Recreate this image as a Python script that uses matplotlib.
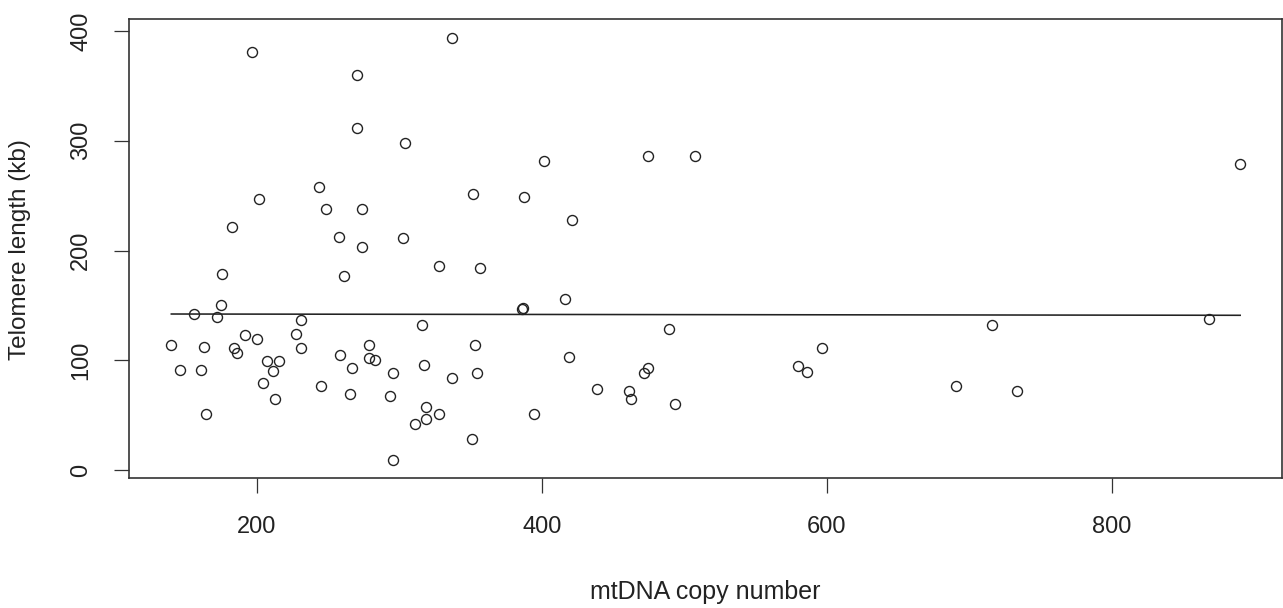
import numpy as np
import matplotlib.pyplot as plt

plt.rcParams["font.family"] = ["Liberation Sans", "DejaVu Sans"]

# mtDNA copy number vs telomere length
mtdna = [
    196.5, 270.0, 270.0, 303.6, 243.5, 201.2, 248.2, 273.7, 182.7, 257.3,
    302.2, 273.7, 175.6, 261.1, 174.5, 156.0, 171.9, 230.9, 316.0, 227.6,
    191.6, 200.0, 139.9, 163.0, 230.9, 183.6, 186.2, 278.4, 258.5, 278.4,
    283.0, 206.8, 215.4, 317.0, 145.8, 160.9, 211.4, 266.9, 295.4, 204.2,
    244.7, 265.5, 293.3, 212.6, 318.4, 318.4, 311.1, 164.2, 295.4, 337.1,
    401.4, 351.8, 387.6, 421.1, 474.2, 507.4, 327.9, 356.5, 386.2, 386.6,
    416.4, 489.1, 353.2, 418.7, 336.8, 354.4, 474.2, 471.6, 438.4, 461.3,
    462.5, 493.5, 327.9, 394.6, 350.7, 596.3, 579.9, 585.9, 690.8, 733.3,
    716.0, 868.1, 890.0,
]
telomere = [
    380.6, 359.6, 311.6, 297.9, 257.6, 247.2, 238.1, 238.1, 221.7, 212.6,
    211.1, 202.9, 178.3, 176.8, 150.1, 142.4, 139.4, 136.4, 131.8, 124.2,
    122.7, 119.6, 113.6, 112.1, 110.9, 111.2, 106.3, 113.6, 104.8, 101.8,
    100.5, 99.0, 99.0, 95.9, 91.4, 91.4, 89.9, 92.9, 88.4, 79.5,
    76.5, 69.0, 67.7, 64.4, 57.1, 46.2, 41.9, 51.0, 9.1, 393.9,
    281.5, 251.8, 248.7, 227.8, 286.4, 286.4, 185.9, 184.3, 146.7, 147.2,
    155.8, 128.7, 113.9, 103.2, 84.1, 88.4, 93.2, 88.4, 73.5, 72.0,
    64.4, 60.1, 51.0, 51.0, 28.5, 110.9, 94.5, 89.6, 76.5, 71.7,
    131.8, 137.6, 278.5,
]
xticks = [200, 400, 600, 800]
yticks = [0, 100, 200, 300, 400]

x = np.array(mtdna)
y = np.array(telomere)

fig = plt.figure(figsize=(12.83, 6.08), dpi=100)
ax = fig.add_axes([129 / 1283, 1 - 477.7 / 608, (1281.5 - 129) / 1283, (477.7 - 19.3) / 608])

ax.plot(x, y, "o", ms=7.2, mfc="none", mec="#222222", mew=1.0)

# linear fit drawn over the range of the data
b, a = np.polyfit(x, y, 1)
xs = np.array([x.min(), x.max()])
ax.plot(xs, a + b * xs, color="#222222", lw=1.15)

ax.set_xlim(110.2, 919.0)
ax.set_ylim(-7.0, 410.7)
ax.set_xticks(xticks)
ax.set_yticks(yticks)
ax.set_yticklabels([str(v) for v in yticks], rotation=90, va="center")
ax.tick_params(axis="both", direction="out", length=10.5, width=0.9,
               color="#333333", labelsize=17, labelcolor="#222222")
ax.tick_params(axis="x", pad=17)
ax.tick_params(axis="y", pad=16)
for s in ax.spines.values():
    s.set_linewidth(1.2)
    s.set_color("#333333")

fig.text(705 / 1283, 1 - 592 / 608, "mtDNA copy number", ha="center", va="center",
         fontsize=18, color="#222222")
fig.text(20 / 1283, 1 - 250 / 608, "Telomere length (kb)", ha="center", va="center",
         rotation=90, fontsize=17.5, color="#222222")

fig.savefig("out.png", dpi=100)
